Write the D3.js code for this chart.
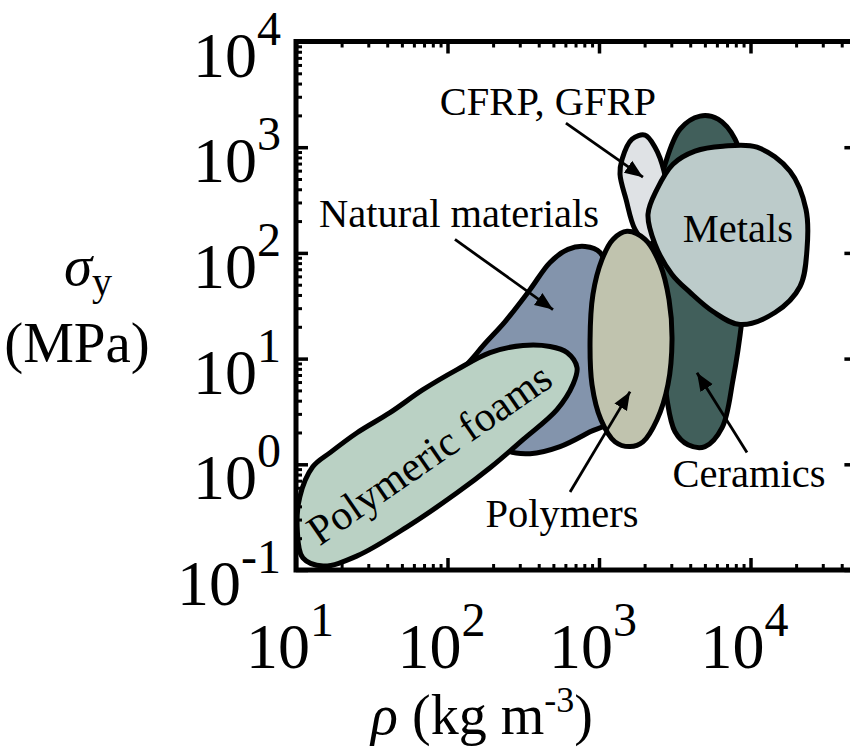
<!DOCTYPE html>
<html><head><meta charset="utf-8">
<script src="https://cdn.jsdelivr.net/npm/d3@7"></script>
<style>
body{margin:0;background:#fff}
text{font-family:"Liberation Serif","Times New Roman",serif;fill:#000}
</style>
</head><body>
<svg id="c" width="850" height="749"></svg>
<script>
// ---- data (density kg/m3, yield strength MPa) ----
const xTickExps = [1, 2, 3, 4];
const yTickExps = [-1, 0, 1, 2, 3, 4];

const naturalMaterials = [[121,6.32],[159,11.6],[240,22.4],[351,45.1],[475,81.3],[624,108],[809,115],[1016,101],[1219,45.1],[1256,9.79],[1219,2.64],[873,2.03],[553,1.47],[351,1.26],[251,1.34],[206,1.71]];
const polymericFoams = [[12.9,0.946],[16.8,1.29],[25.3,1.99],[41.7,3.08],[68.9,5.08],[115.6,7.87],[191,11.4],[315,13.3],[475,13.0],[615,11.4],[716,8.22],[673,5.68],[528,3.29],[315,1.71],[191,0.927],[115.6,0.537],[54.1,0.256],[25.3,0.136],[15.1,0.109],[11.1,0.130],[10.2,0.239],[10.6,0.492]];
const polymers = [[1531,160],[2013,134],[2530,77.8],[2899,36.2],[3034,15.1],[2853,5.68],[2415,2.64],[1950,1.63],[1603,1.47],[1276,1.63],[1030,2.64],[899,5.68],[873,15.1],[912,40.5],[1047,86.7],[1236,134]];
const ceramics = [[2729,690],[3428,1483],[4645,1968],[6108,1841],[7907,1191],[9204,498],[9640,108],[8795,23.4],[7670,6.33],[6493,2.22],[5010,1.47],[3866,1.53],[3175,2.03],[2813,4.08],[2608,15.1],[2240,69.8],[2342,258]];
const cfrp = [[1420,769],[1652,1191],[2013,1300],[2342,1000],[2686,593],[2853,288],[2530,150],[2106,121],[1729,167],[1508,321],[1376,555]];
const metals = [[2415,400],[3076,690],[4303,917],[6583,1021],[11040,1000],[18240,593],[23240,258],[23600,108],[21230,48.1],[14520,27.3],[8530,21.0],[5650,27.9],[3990,42.3],[3034,62.5],[2342,121],[2106,232]];

const regionNames = ["Natural materials","Ceramics","CFRP, GFRP","Polymers","Metals","Polymeric foams"];
const regionData = [naturalMaterials, ceramics, cfrp, polymers, metals, polymericFoams];
const regionColors = ["#8394ac","#415f5b","#dfe2e5","#c0c3ae","#bccbca","#bad1c4"];

// labels: text, anchor point (rho, sigma), rotation
const labelTexts = ["CFRP, GFRP","Natural materials","Metals","Polymers","Ceramics","Polymeric foams"];
const labelPos = [[460,2009],[119,175],[8260,126],[570,0.256],[9770,0.612],[76.6,1.23]];
const labelRot = [0,0,0,0,0,-34.5];

// arrows: [tail, tip]
const arrows = [
  [[605,1687],[1950,520]],
  [[112,134],[497,29.1]],
  [[644,0.548],[1603,4.87]],
  [[9480,1.29],[4436,7.36]]
];

// ---- layout ----
const svg = d3.select("#c");
const x = d3.scaleLog().domain([10, 50000]).range([296, 296 + 151.5*Math.log10(5000)]);
const y = d3.scaleLog().domain([0.1, 10000]).range([570, 41.5]);

const line = d3.line().x(d=>x(d[0])).y(d=>y(d[1])).curve(d3.curveCatmullRomClosed.alpha(0.5));

svg.append("defs").append("marker")
  .attr("id","ah").attr("viewBox","0 0 10 10").attr("refX",10).attr("refY",5)
  .attr("markerWidth",6.5).attr("markerHeight",6.5).attr("markerUnits","strokeWidth")
  .attr("orient","auto")
  .append("path").attr("d","M0,1 L10,5 L0,9 z").attr("fill","#000");

const plot = svg.append("g");
plot.selectAll("path.region").data(regionData).join("path")
  .attr("class","region")
  .attr("d", d=>line(d))
  .attr("fill",(d,i)=>regionColors[i])
  .attr("stroke","#000").attr("stroke-width",5).attr("stroke-linejoin","round");

// arrows
plot.selectAll("line.arr").data(arrows).join("line")
  .attr("x1",d=>x(d[0][0])).attr("y1",d=>y(d[0][1]))
  .attr("x2",d=>x(d[1][0])).attr("y2",d=>y(d[1][1]))
  .attr("stroke","#000").attr("stroke-width",2.8).attr("marker-end","url(#ah)");

// labels
plot.selectAll("text.lab").data(labelTexts).join("text")
  .attr("class","lab")
  .attr("transform",(d,i)=>`translate(${x(labelPos[i][0])},${y(labelPos[i][1])}) rotate(${labelRot[i]})`)
  .attr("y",(d,i)=> labelRot[i] ? 13 : 0)
  .attr("text-anchor","middle")
  .attr("font-size",(d,i)=> labelRot[i] ? 42 : 40.5)
  .text(d=>d);

// ---- axes (ticks inside) ----
const xMajor = xTickExps.map(e=>Math.pow(10,e));
const yMajor = yTickExps.map(e=>Math.pow(10,e));
const xMinor = [], yMinor = [];
for (let e=1;e<=4;e++) for (let k=2;k<=9;k++){ const v=k*Math.pow(10,e); if(v<=50000) xMinor.push(v); }
for (let e=-1;e<=3;e++) for (let k=2;k<=9;k++){ yMinor.push(k*Math.pow(10,e)); }

function addAxis(gen, tf, vals, size, sw){
  const g = svg.append("g").attr("transform",tf)
    .call(gen.tickValues(vals).tickSize(size).tickFormat(""));
  g.select(".domain").remove();
  g.selectAll(".tick line").attr("stroke","#000").attr("stroke-width",sw);
}
const x0 = x.range()[0], x1 = x.range()[1], yb = y.range()[0], yt = y.range()[1];
addAxis(d3.axisBottom(x), `translate(0,${yb})`, xMajor, -12, 3.5);
addAxis(d3.axisBottom(x), `translate(0,${yb})`, xMinor, -6, 3);
addAxis(d3.axisTop(x), `translate(0,${yt})`, xMajor, -12, 3.5);
addAxis(d3.axisTop(x), `translate(0,${yt})`, xMinor, -6, 3);
addAxis(d3.axisLeft(y), `translate(${x0},0)`, yMajor, -12, 3.5);
addAxis(d3.axisLeft(y), `translate(${x0},0)`, yMinor, -6, 3);
addAxis(d3.axisRight(y), `translate(${x1},0)`, yMajor, -12, 3.5);
addAxis(d3.axisRight(y), `translate(${x1},0)`, yMinor, -6, 3);

svg.append("rect").attr("x",x0).attr("y",yt).attr("width",x1-x0).attr("height",yb-yt)
  .attr("fill","none").attr("stroke","#000").attr("stroke-width",5);

// tick labels
const ylab = svg.append("g");
yTickExps.forEach(e=>{
  const t = ylab.append("text").attr("x",281).attr("y",y(Math.pow(10,e))+35)
    .attr("text-anchor","end").attr("font-size",64);
  t.append("tspan").text("10");
  t.append("tspan").attr("font-size",48).attr("dy",-32).text(e<0?"-"+Math.abs(e):String(e));
});
const xlab = svg.append("g");
xTickExps.forEach(e=>{
  const t = xlab.append("text").attr("x",x(Math.pow(10,e))-6).attr("y",668)
    .attr("text-anchor","middle").attr("font-size",64);
  t.append("tspan").text("10");
  t.append("tspan").attr("font-size",48).attr("dy",-32).text(String(e));
});

// axis titles
const xt = svg.append("text").attr("x",482).attr("y",734).attr("text-anchor","middle").attr("font-size",56);
xt.append("tspan").attr("font-style","italic").text("ρ");
xt.append("tspan").text(" (kg m");
xt.append("tspan").attr("font-size",36).attr("dy",-22).text("-3");
xt.append("tspan").attr("dy",22).text(")");

const yt1 = svg.append("text").attr("x",88).attr("y",285).attr("text-anchor","middle").attr("font-size",57);
yt1.append("tspan").attr("font-style","italic").text("σ");
yt1.append("tspan").attr("font-size",40).attr("dy",10).text("y");
svg.append("text").attr("x",77).attr("y",362).attr("text-anchor","middle").attr("font-size",57).text("(MPa)");
</script>
</body></html>
